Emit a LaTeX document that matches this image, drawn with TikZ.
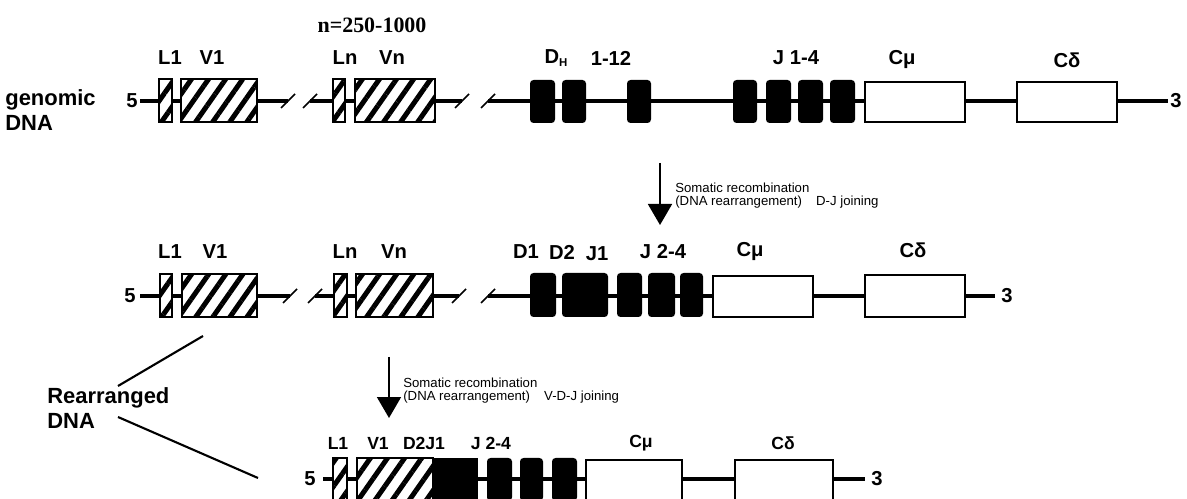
\documentclass[tikz,border=0pt]{standalone}
\usepackage{fontspec}
\setmainfont{Liberation Sans}
\newfontfamily\timesfont{Liberation Serif}
\usetikzlibrary{arrows.meta,patterns.meta}

\begin{document}
\begin{tikzpicture}[x=0.02cm,y=-0.02cm,
  dna/.style={line width=2.6pt},
  brk/.style={line width=0.9pt},
  vseg/.style={draw,line width=1.1pt,preaction={fill=white},
    pattern={Lines[angle=55,distance=0.28cm,line width=0.1cm]}},
  exon/.style={fill=black,rounded corners=2pt},
  cseg/.style={draw,fill=white,line width=1.1pt},
  lbl/.style={font=\fontsize{11.5}{12}\selectfont\bfseries,inner sep=0pt},
  lblsm/.style={font=\fontsize{10}{11}\selectfont\bfseries,inner sep=0pt},
  side/.style={font=\fontsize{12.5}{14}\selectfont\bfseries,align=left,anchor=west,inner sep=0pt},
  note/.style={font=\fontsize{7.5}{7.4}\selectfont,align=left,anchor=west,inner sep=0pt},
  recomb/.style={line width=1pt,-{Triangle[length=0.42cm,width=0.48cm]}}]
\useasboundingbox (0,0) rectangle (1187,499);

% genomic DNA
\node[side] (gen) at (5,110) {genomic\\DNA};
\node[font=\fontsize{12.5}{13}\selectfont\bfseries\timesfont,inner sep=0pt] (nrep) at (372,25) {n=250-1000};
\node[lbl] (five1) at (132,101) {5};
\node[lbl] (three1) at (1176,101) {3};
\draw[dna] (140,101) -- (288,101);
\draw[dna] (310,101) -- (462,101);
\draw[dna] (488,101) -- (1168,101);
\draw[brk] (281,108) -- (295,94);
\draw[brk] (303,108) -- (317,94);
\draw[brk] (455,108) -- (469,94);
\draw[brk] (481,108) -- (495,94);
\draw[vseg] (159,79) rectangle (172,122);
\draw[vseg] (181,79) rectangle (257,122);
\draw[vseg] (333,79) rectangle (345,122);
\draw[vseg] (355,79) rectangle (435,122);
\foreach \a/\b in {530/555,562/586,627/651,733/757,766/791,798/823,830/855}
  \fill[exon] (\a,80) rectangle (\b,123);
\draw[cseg] (865,82) rectangle (965,122);
\draw[cseg] (1017,82) rectangle (1117,122);
\node[lbl] (l1a) at (170,58) {L1};
\node[lbl] (v1a) at (212,58) {V1};
\node[lbl] (lna) at (345,58) {Ln};
\node[lbl] (vna) at (392,58) {Vn};
\node[lbl] (dha) at (556,58) {D\raisebox{-0.35ex}{\fontsize{6.5}{7}\selectfont H}};
\node[lbl] (dnum) at (611,58) {1-12};
\node[lbl] (ja) at (796,58) {J 1-4};
\node[lbl] (cma) at (902,60) {Cμ};
\node[lbl] (cda) at (1067,60) {Cδ};

% D-J joining
\coordinate (dja) at (660,163);
\coordinate (djb) at (660,225);
\draw[recomb] (dja) -- (djb);
\node[note] (djtxt) at (675,196) {Somatic recombination\\(DNA rearrangement)\hspace{6pt} D-J joining};

% after D-J joining
\node[lbl] (five2) at (130,296) {5};
\node[lbl] (three2) at (1007,296) {3};
\draw[dna] (140,296) -- (290,296);
\draw[dna] (315,296) -- (459,296);
\draw[dna] (488,296) -- (995,296);
\draw[brk] (283,303) -- (297,289);
\draw[brk] (308,303) -- (322,289);
\draw[brk] (452,303) -- (466,289);
\draw[brk] (481,303) -- (495,289);
\draw[vseg] (160,274) rectangle (172,317);
\draw[vseg] (182,274) rectangle (257,317);
\draw[vseg] (334,274) rectangle (347,317);
\draw[vseg] (356,274) rectangle (433,317);
\foreach \a/\b in {530/556,562/608,617/642,648/675,680/703}
  \fill[exon] (\a,273) rectangle (\b,317);
\draw[cseg] (713,276) rectangle (813,317);
\draw[cseg] (865,275) rectangle (965,317);
\node[lbl] (l1b) at (170,252) {L1};
\node[lbl] (v1b) at (215,252) {V1};
\node[lbl] (lnb) at (345,252) {Ln};
\node[lbl] (vnb) at (394,252) {Vn};
\node[lbl] (d1b) at (526,252) {D1};
\node[lbl] (d2b) at (562,252) {D2};
\node[lbl] (j1b) at (597,254) {J1};
\node[lbl] (jb) at (663,252) {J 2-4};
\node[lbl] (cmb) at (750,252) {Cμ};
\node[lbl] (cdb) at (913,250) {Cδ};

% V-D-J joining
\coordinate (vdja) at (389,357);
\coordinate (vdjb) at (389,418);
\draw[recomb] (vdja) -- (vdjb);
\node[note] (vdjtxt) at (403,391) {Somatic recombination\\(DNA rearrangement)\hspace{6pt} V-D-J joining};

% rearranged DNA
\node[side] (rearr) at (47,408) {Rearranged\\DNA};
\coordinate (ra) at (118,386);
\coordinate (rb) at (203,336);
\coordinate (rc) at (118,417);
\coordinate (rd) at (258,478);
\draw[line width=1.2pt] (ra) -- (rb);
\draw[line width=1.2pt] (rc) -- (rd);

\node[lbl] (five3) at (310,479) {5};
\node[lbl] (three3) at (877,479) {3};
\draw[dna] (323,479) -- (865,479);
\draw[vseg] (333,458) rectangle (347,501);
\draw[vseg] (357,458) rectangle (433,501);
\fill (433,458) rectangle (478,501);
\foreach \a/\b in {487/512,520/543,552/577}
  \fill[exon] (\a,458) rectangle (\b,501);
\draw[cseg] (586,460) rectangle (682,501);
\draw[cseg] (735,460) rectangle (833,501);
\node[lblsm] (l1c) at (338,443) {L1};
\node[lblsm] (v1c) at (378,443) {V1};
\node[lblsm] (djc) at (424,443) {D2J1};
\node[lblsm] (jc) at (491,443) {J 2-4};
\node[lblsm] (cmc) at (641,443) {Cμ};
\node[lblsm] (cdc) at (783,443) {Cδ};
\end{tikzpicture}
\end{document}
